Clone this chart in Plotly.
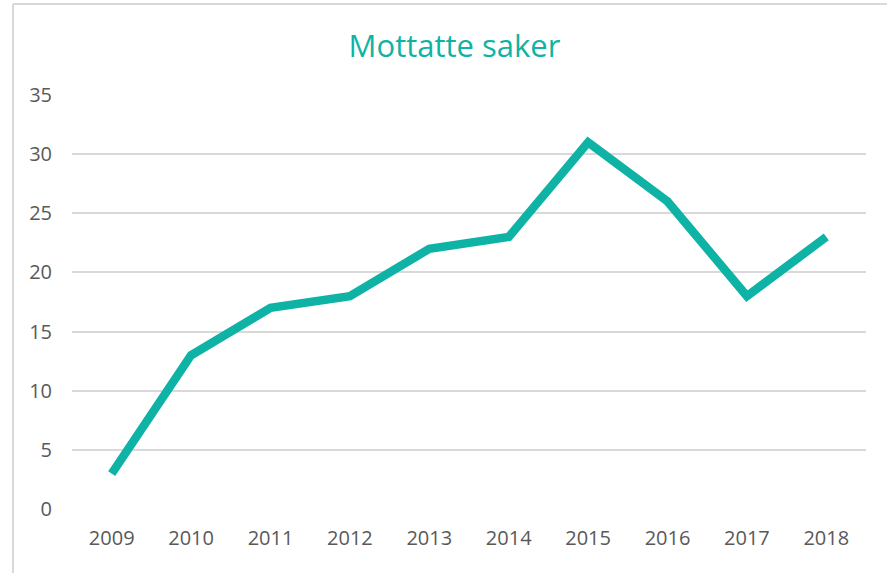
import plotly.graph_objects as go

years = ["2009", "2010", "2011", "2012", "2013", "2014", "2015", "2016", "2017", "2018"]
values = [3, 13, 17, 18, 22, 23, 31, 26, 18, 23]
y_ticks = [0, 5, 10, 15, 20, 25, 30, 35]

teal = "#0FB3A5"
grid = "#D9D9D9"
txt = "#595959"

fig = go.Figure()
fig.add_trace(go.Scatter(x=years, y=values, mode="lines",
                         line=dict(color=teal, width=8.5), hoverinfo="x+y"))

W, H = 887, 573
L, R, T, B = 72, 21, 95, 64
pw, ph = W - L - R, H - T - B

def px_x(x):
    return (x - L) / pw

def px_y(y):
    return (H - B - y) / ph

fig.update_layout(
    width=W, height=H,
    margin=dict(l=L, r=R, t=T, b=B),
    paper_bgcolor="white", plot_bgcolor="white",
    showlegend=False,
    font=dict(family="Open Sans, Liberation Sans, sans-serif", color=txt, size=20),
    title=dict(text="Mottatte saker", x=454.5 / W, xanchor="center",
               y=1 - 46 / H, yanchor="middle", yref="container",
               font=dict(size=31, color=teal)),
    xaxis=dict(type="category", range=[-0.5, 9.5], showgrid=False, zeroline=False,
               showline=False, ticks="", ticklabelstandoff=15,
               tickfont=dict(size=20, color=txt)),
    yaxis=dict(range=[0, 35], tickvals=y_ticks, showgrid=True, gridcolor=grid,
               gridwidth=2, zeroline=False, showline=False, ticks="",
               ticklabelstandoff=19, tickfont=dict(size=20, color=txt)),
    shapes=[
        dict(type="line", xref="paper", yref="paper",
             x0=px_x(13), x1=px_x(13), y0=px_y(4), y1=px_y(H + 5),
             line=dict(color=grid, width=2)),
        dict(type="line", xref="paper", yref="paper",
             x0=px_x(13), x1=px_x(W + 5), y0=px_y(4), y1=px_y(4),
             line=dict(color=grid, width=2)),
    ],
)

fig.write_html("out.html",
               config={"displayModeBar": False},
               post_script="document.body.style.margin='0';document.body.style.overflow='hidden';")
